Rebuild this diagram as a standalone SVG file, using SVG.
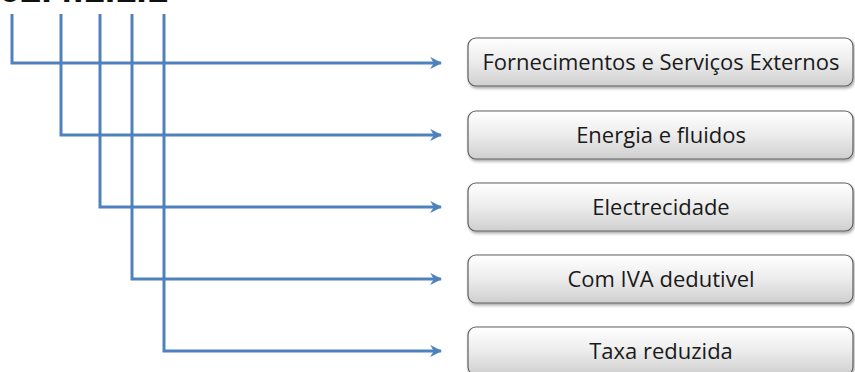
<svg xmlns="http://www.w3.org/2000/svg" width="855" height="372" viewBox="0 0 855 372">
  <defs>
    <linearGradient id="boxFill" x1="0" y1="0" x2="0" y2="1">
      <stop offset="0" stop-color="#ffffff"/>
      <stop offset="0.5" stop-color="#ececec"/>
      <stop offset="1" stop-color="#cfcfcf"/>
    </linearGradient>
    <filter id="shadow" x="-5%" y="-20%" width="115%" height="160%">
      <feGaussianBlur in="SourceAlpha" stdDeviation="1.5"/>
      <feOffset dx="1" dy="2"/>
      <feComponentTransfer><feFuncA type="linear" slope="0.35"/></feComponentTransfer>
      <feMerge><feMergeNode/><feMergeNode in="SourceGraphic"/></feMerge>
    </filter>
    <marker id="arrow" viewBox="0 0 10 10" refX="9" refY="5" markerWidth="4" markerHeight="4" orient="auto" markerUnits="strokeWidth">
      <path d="M0,0 L10,5 L0,10 L3,5 Z" fill="#4f81bd"/>
    </marker>
  </defs>
  <style>
    .wire { fill: none; stroke: #4f81bd; stroke-width: 3; stroke-linejoin: miter; }
    .box { fill: url(#boxFill); stroke: #5f5f5f; stroke-width: 1.2; filter: url(#shadow); }
    .label { font-family: "Open Sans", "Liberation Sans", sans-serif; font-size: 22px; fill: #1a1a1a; text-anchor: middle; }
    .code { font-family: "Liberation Sans", sans-serif; font-weight: bold; font-size: 38px; fill: #111; }
  </style>

  <!-- account code, clipped at the top edge -->
  <text class="code" x="-1" y="2">62.4.1.1.1</text>

  <g id="connectors">
    <path class="wire" d="M12,14 V63 H441" marker-end="url(#arrow)"/>
    <path class="wire" d="M61,14 V135 H441" marker-end="url(#arrow)"/>
    <path class="wire" d="M100,14 V207 H441" marker-end="url(#arrow)"/>
    <path class="wire" d="M132,14 V279 H441" marker-end="url(#arrow)"/>
    <path class="wire" d="M164,14 V351 H441" marker-end="url(#arrow)"/>
  </g>

  <g id="node-fse">
    <rect class="box" x="468" y="38" width="385" height="48" rx="8"/>
    <text class="label" x="661" y="70">Fornecimentos e Serviços Externos</text>
  </g>
  <g id="node-energia">
    <rect class="box" x="468" y="111" width="385" height="48" rx="8"/>
    <text class="label" x="661" y="143">Energia e fluidos</text>
  </g>
  <g id="node-electrecidade">
    <rect class="box" x="468" y="183" width="385" height="48" rx="8"/>
    <text class="label" x="661" y="215">Electrecidade</text>
  </g>
  <g id="node-iva">
    <rect class="box" x="468" y="255" width="385" height="48" rx="8"/>
    <text class="label" x="661" y="287">Com IVA dedutivel</text>
  </g>
  <g id="node-taxa">
    <rect class="box" x="468" y="327" width="385" height="48" rx="8"/>
    <text class="label" x="661" y="359">Taxa reduzida</text>
  </g>
</svg>
